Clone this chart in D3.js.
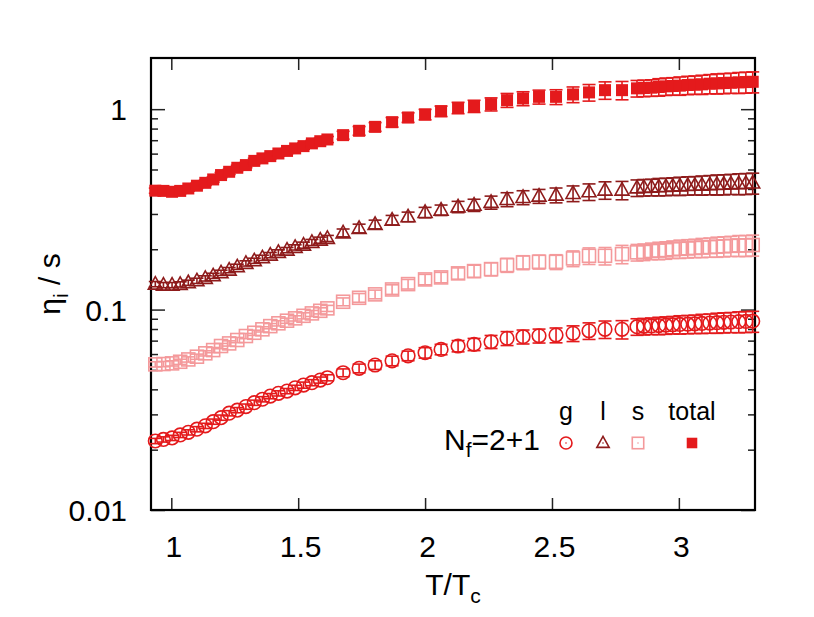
<!DOCTYPE html>
<html>
<head>
<meta charset="utf-8">
<script src="https://cdn.jsdelivr.net/npm/d3@7"></script>
<style>
  body { margin: 0; background: #fff; }
  svg { display: block; font-family: "Liberation Sans", Arial, sans-serif; }
</style>
</head>
<body>
<div id="chart"></div>
<script>
// temperatures T/Tc
const temps = [
  0.937, 0.969, 1.003, 1.035, 1.067, 1.101, 1.134, 1.165, 1.196, 1.228, 1.260,
  1.294, 1.327, 1.359, 1.390, 1.422, 1.456, 1.488, 1.521, 1.554, 1.587, 1.615,
  1.677, 1.740, 1.803, 1.870, 1.933, 2.000, 2.063, 2.130, 2.193, 2.260, 2.323,
  2.386, 2.449, 2.516, 2.583, 2.646, 2.709, 2.776,
  2.835, 2.862, 2.892, 2.921, 2.949, 2.976, 3.004, 3.035, 3.063, 3.091, 3.122,
  3.150, 3.177, 3.205, 3.236, 3.264, 3.291
]

// eta_g / s (circles)
const etaG = [
  0.0221, 0.0225, 0.0229, 0.0237, 0.0244, 0.0253, 0.0263, 0.0276, 0.0289, 0.0304, 0.0315,
  0.0328, 0.0343, 0.0357, 0.0370, 0.0382, 0.0392, 0.0407, 0.0420, 0.0432, 0.0445, 0.0457,
  0.0484, 0.0509, 0.0529, 0.0555, 0.0588, 0.0609, 0.0633, 0.0658, 0.0671, 0.0691, 0.0719,
  0.0732, 0.0740, 0.0746, 0.0761, 0.0784, 0.0797, 0.0797,
  0.0822, 0.0825, 0.0829, 0.0832, 0.0836, 0.0840, 0.0843, 0.0846, 0.0849, 0.0853, 0.0856,
  0.0860, 0.0864, 0.0867, 0.0870, 0.0873, 0.0875
]

// eta_l / s (triangles)
const etaL = [
  0.1340, 0.1325, 0.1325, 0.1336, 0.1361, 0.1392, 0.1431, 0.1474, 0.1526, 0.1574, 0.1635,
  0.1700, 0.1752, 0.1813, 0.1870, 0.1929, 0.1981, 0.2043, 0.2097, 0.2163, 0.2221, 0.2265,
  0.2415, 0.2541, 0.2661, 0.2796, 0.2904, 0.3053, 0.3135, 0.3256, 0.3320, 0.3425, 0.3545,
  0.3627, 0.3682, 0.3725, 0.3798, 0.3869, 0.3945, 0.3945,
  0.405, 0.407, 0.408, 0.410, 0.411, 0.413, 0.414, 0.416, 0.417, 0.418, 0.420,
  0.421, 0.422, 0.424, 0.425, 0.426, 0.428
]

// eta_s / s (open squares)
const etaS = [
  0.0533, 0.0535, 0.0539, 0.0549, 0.0564, 0.0582, 0.0605, 0.0628, 0.0658, 0.0678, 0.0705,
  0.0738, 0.0766, 0.0797, 0.0827, 0.0854, 0.0880, 0.0904, 0.0931, 0.0957, 0.0986, 0.1014,
  0.1094, 0.1145, 0.1191, 0.1260, 0.1340, 0.1414, 0.1447, 0.1516, 0.1556, 0.1592, 0.1667,
  0.1719, 0.1731, 0.1731, 0.1800, 0.1855, 0.1855, 0.1892,
  0.193, 0.194, 0.196, 0.197, 0.198, 0.200, 0.201, 0.202, 0.203, 0.204, 0.205,
  0.206, 0.207, 0.208, 0.209, 0.209, 0.210
]

// eta_total / s (filled squares)
const etaTotal = [
  0.392, 0.391, 0.387, 0.391, 0.402, 0.415, 0.429, 0.446, 0.469, 0.487, 0.510,
  0.526, 0.552, 0.568, 0.583, 0.601, 0.619, 0.637, 0.654, 0.675, 0.692, 0.706,
  0.742, 0.780, 0.816, 0.861, 0.909, 0.941, 0.977, 1.015, 1.035, 1.059, 1.109,
  1.131, 1.152, 1.152, 1.184, 1.212, 1.244, 1.244,
  1.27, 1.275, 1.28, 1.29, 1.30, 1.305, 1.31, 1.32, 1.325, 1.33, 1.34,
  1.345, 1.35, 1.355, 1.36, 1.365, 1.37
]

// relative error, shared by all four series at a given temperature
const relErr = [
  0.03, 0.03, 0.03, 0.03, 0.03, 0.03, 0.03, 0.03, 0.03, 0.03, 0.03,
  0.03, 0.03, 0.03, 0.03, 0.03, 0.03, 0.03, 0.035, 0.035, 0.035, 0.035,
  0.045, 0.05, 0.05, 0.055, 0.055, 0.06, 0.06, 0.065, 0.07, 0.075, 0.08,
  0.08, 0.08, 0.085, 0.09, 0.095, 0.10, 0.105,
  0.095, 0.095, 0.095, 0.10, 0.10, 0.10, 0.105, 0.105, 0.105, 0.11, 0.11,
  0.115, 0.115, 0.115, 0.12, 0.12, 0.12
]

const xTicks = [1, 1.5, 2, 2.5, 3]
const yTicks = [0.01, 0.1, 1]
const yMinorTicks = [0.02, 0.03, 0.04, 0.05, 0.06, 0.07, 0.08, 0.09,
                     0.2, 0.3, 0.4, 0.5, 0.6, 0.7, 0.8, 0.9]
const legendHeads = ['g', 'l', 's', 'total']

const W = 814, H = 617
const box = { left: 151, right: 755, top: 58, bottom: 510 }
const lw = 1.6

const series = [
  { name: 'g', values: etaG, color: '#e41a1c', shape: 'circle' },
  { name: 'l', values: etaL, color: '#8e1b1b', shape: 'triangle' },
  { name: 's', values: etaS, color: '#f4999b', shape: 'square' },
  { name: 'total', values: etaTotal, color: '#e41a1c', shape: 'filled' }
]

const svg = d3.select('#chart').append('svg')
  .attr('width', W)
  .attr('height', H)

const x = d3.scaleLinear().domain([0.92, 3.3]).range([box.left, box.right])
const y = d3.scaleLog().domain([0.01, 1.8]).range([box.bottom, box.top])

// axes, ticks point inwards on all four sides
const fmt = d => String(d)

const gx = svg.append('g')
  .attr('transform', `translate(0,${box.bottom})`)
  .call(d3.axisBottom(x).tickValues(xTicks).tickSize(-12).tickFormat(fmt))
gx.selectAll('text').attr('x', 2).attr('y', 47).attr('dy', 0)

svg.append('g')
  .attr('transform', `translate(0,${box.top})`)
  .call(d3.axisTop(x).tickValues(xTicks).tickSize(-12).tickFormat(''))

const gy = svg.append('g')
  .attr('transform', `translate(${box.left},0)`)
  .call(d3.axisLeft(y).tickValues(yTicks).tickSize(-14).tickFormat(fmt))
gy.selectAll('text').attr('x', -24).attr('dy', '0.36em')

svg.append('g')
  .attr('transform', `translate(${box.left},0)`)
  .call(d3.axisLeft(y).tickValues(yMinorTicks).tickSize(-7).tickFormat(''))

svg.append('g')
  .attr('transform', `translate(${box.right},0)`)
  .call(d3.axisRight(y).tickValues(yTicks).tickSize(-14).tickFormat(''))

svg.append('g')
  .attr('transform', `translate(${box.right},0)`)
  .call(d3.axisRight(y).tickValues(yMinorTicks).tickSize(-7).tickFormat(''))

svg.selectAll('.domain').remove()
svg.selectAll('.tick line').attr('stroke', '#222').attr('stroke-width', 1.5)
svg.selectAll('.tick text')
  .attr('fill', '#000')
  .style('font-size', '30px')
  .style('font-family', '"Liberation Sans", Arial, sans-serif')

svg.append('rect')
  .attr('x', box.left)
  .attr('y', box.top)
  .attr('width', box.right - box.left)
  .attr('height', box.bottom - box.top)
  .attr('fill', 'none')
  .attr('stroke', '#000')
  .attr('stroke-width', 2.2)

// marker drawing
function drawMarker(g, shape, color, cx, cy, k) {
  k = k || 1
  if (shape === 'circle') {
    g.append('circle').attr('cx', cx).attr('cy', cy).attr('r', 6.8 * k)
      .attr('fill', 'none').attr('stroke', color).attr('stroke-width', lw)
  } else if (shape === 'triangle') {
    g.append('path')
      .attr('d', `M${cx},${cy - 7.5 * k}L${cx + 7 * k},${cy + 5 * k}L${cx - 7 * k},${cy + 5 * k}Z`)
      .attr('fill', 'none').attr('stroke', color).attr('stroke-width', lw)
  } else if (shape === 'square') {
    g.append('rect').attr('x', cx - 6.5 * k).attr('y', cy - 6.5 * k)
      .attr('width', 13 * k).attr('height', 13 * k)
      .attr('fill', 'none').attr('stroke', color).attr('stroke-width', lw)
  } else {
    g.append('rect').attr('x', cx - 6 * k).attr('y', cy - 6 * k)
      .attr('width', 12 * k).attr('height', 12 * k)
      .attr('fill', color)
  }
}

const plot = svg.append('g')

series.forEach(function (s) {
  const g = plot.append('g')
  s.values.forEach(function (v, i) {
    const cx = x(temps[i])
    const lo = y(v * (1 - relErr[i]))
    const hi = y(v * (1 + relErr[i]))
    g.append('line').attr('x1', cx).attr('x2', cx).attr('y1', lo).attr('y2', hi)
      .attr('stroke', s.color).attr('stroke-width', lw)
    g.append('line').attr('x1', cx - 6.5).attr('x2', cx + 6.5).attr('y1', lo).attr('y2', lo)
      .attr('stroke', s.color).attr('stroke-width', lw)
    g.append('line').attr('x1', cx - 6.5).attr('x2', cx + 6.5).attr('y1', hi).attr('y2', hi)
      .attr('stroke', s.color).attr('stroke-width', lw)
    drawMarker(g, s.shape, s.color, cx, y(v))
  })
})

// legend
const legX = [566, 603, 638, 692]
const leg = svg.append('g')
legendHeads.forEach(function (h, i) {
  leg.append('text')
    .attr('x', legX[i]).attr('y', 420)
    .attr('text-anchor', 'middle')
    .style('font-size', '25px')
    .text(h)
  drawMarker(leg, series[i].shape, series[i].color, legX[i], 443, 0.88)
  if (series[i].shape !== 'filled') {
    leg.append('circle').attr('cx', legX[i]).attr('cy', 443).attr('r', 0.8)
      .attr('fill', series[i].color)
  }
})
const nf = leg.append('text')
  .attr('x', 540).attr('y', 450)
  .attr('text-anchor', 'end')
  .style('font-size', '30px')
nf.append('tspan').text('N')
nf.append('tspan').attr('dy', 7).style('font-size', '21px').text('f')
nf.append('tspan').attr('dy', -7).text('=2+1')

// axis titles
const xl = svg.append('text')
  .attr('x', (box.left + box.right) / 2).attr('y', 595)
  .attr('text-anchor', 'middle')
  .style('font-size', '30px')
xl.append('tspan').text('T/T')
xl.append('tspan').attr('dy', 8).style('font-size', '21px').text('c')

const yl = svg.append('text')
  .attr('transform', `translate(60,${(box.top + box.bottom) / 2}) rotate(-90)`)
  .attr('text-anchor', 'middle')
  .style('font-size', '30px')
yl.append('tspan').text('η')
yl.append('tspan').attr('dy', 8).style('font-size', '21px').text('i')
yl.append('tspan').attr('dy', -8).text(' / s')
</script>
</body>
</html>
